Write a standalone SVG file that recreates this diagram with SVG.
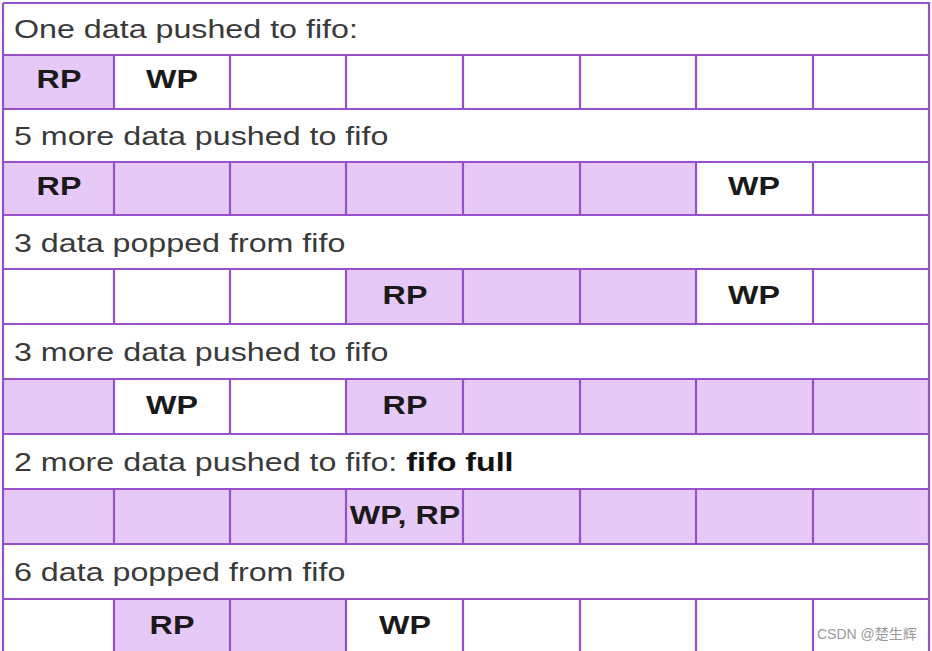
<svg xmlns="http://www.w3.org/2000/svg" width="932" height="651" viewBox="0 0 932 651">
<style>
.bg{fill:#ffffff}
.f{fill:#e6c9f6}
.g{stroke:#9650c8;stroke-width:2.2;fill:none}
.lb{font-family:"Liberation Sans",Arial,sans-serif;font-size:26px;fill:#3a3a3a}
.lbb{font-weight:bold;fill:#111}
.c{font-family:"Liberation Sans",Arial,sans-serif;font-size:26px;font-weight:bold;fill:#1a1a1a;text-anchor:middle}
.wm{font-family:"Liberation Sans","Noto Sans CJK SC",sans-serif;font-size:14px;fill:#9a9a9a}
</style>
<rect class="bg" x="0" y="0" width="932" height="651"/>

<g id="label1"><text class="lb" transform="translate(14,38) scale(1.24,1)">One data pushed to fifo:</text></g>
<g id="row1">
<rect class="f" x="3" y="55" width="111" height="54"/>
<text class="c" transform="translate(59,88) scale(1.24,1)">RP</text>
<text class="c" transform="translate(172,88) scale(1.24,1)">WP</text>
</g>

<g id="label2"><text class="lb" transform="translate(14,145) scale(1.24,1)">5 more data pushed to fifo</text></g>
<g id="row2">
<rect class="f" x="3" y="162" width="693" height="53"/>
<text class="c" transform="translate(59,195) scale(1.24,1)">RP</text>
<text class="c" transform="translate(754,195) scale(1.24,1)">WP</text>
</g>

<g id="label3"><text class="lb" transform="translate(14,252) scale(1.24,1)">3 data popped from fifo</text></g>
<g id="row3">
<rect class="f" x="346" y="269" width="350" height="55"/>
<text class="c" transform="translate(405,304) scale(1.24,1)">RP</text>
<text class="c" transform="translate(754,304) scale(1.24,1)">WP</text>
</g>

<g id="label4"><text class="lb" transform="translate(14,361) scale(1.24,1)">3 more data pushed to fifo</text></g>
<g id="row4">
<rect class="f" x="3" y="379" width="111" height="55"/>
<rect class="f" x="346" y="379" width="583" height="55"/>
<text class="c" transform="translate(172,414) scale(1.24,1)">WP</text>
<text class="c" transform="translate(405,414) scale(1.24,1)">RP</text>
</g>

<g id="label5"><text class="lb" transform="translate(14,471) scale(1.24,1)">2 more data pushed to fifo: <tspan class="lbb">fifo full</tspan></text></g>
<g id="row5">
<rect class="f" x="3" y="489" width="926" height="55"/>
<text class="c" transform="translate(405,524) scale(1.24,1)">WP, RP</text>
</g>

<g id="label6"><text class="lb" transform="translate(14,581) scale(1.24,1)">6 data popped from fifo</text></g>
<g id="row6">
<rect class="f" x="114" y="599" width="232" height="56"/>
<text class="c" transform="translate(172,634) scale(1.24,1)">RP</text>
<text class="c" transform="translate(405,634) scale(1.24,1)">WP</text>
</g>

<g id="grid" class="g">
<path d="M3,3 H929 V655 M3,3 V655"/>
<path d="M3,55 H929 M3,109 H929 M3,162 H929 M3,215 H929 M3,269 H929 M3,324 H929 M3,379 H929 M3,434 H929 M3,489 H929 M3,544 H929 M3,599 H929"/>
<path d="M114,55 V109 M230,55 V109 M346,55 V109 M463,55 V109 M580,55 V109 M696,55 V109 M813,55 V109"/>
<path d="M114,162 V215 M230,162 V215 M346,162 V215 M463,162 V215 M580,162 V215 M696,162 V215 M813,162 V215"/>
<path d="M114,269 V324 M230,269 V324 M346,269 V324 M463,269 V324 M580,269 V324 M696,269 V324 M813,269 V324"/>
<path d="M114,379 V434 M230,379 V434 M346,379 V434 M463,379 V434 M580,379 V434 M696,379 V434 M813,379 V434"/>
<path d="M114,489 V544 M230,489 V544 M346,489 V544 M463,489 V544 M580,489 V544 M696,489 V544 M813,489 V544"/>
<path d="M114,599 V655 M230,599 V655 M346,599 V655 M463,599 V655 M580,599 V655 M696,599 V655 M813,599 V655"/>
</g>

<text class="wm" x="817" y="639">CSDN @楚生辉</text>
</svg>
